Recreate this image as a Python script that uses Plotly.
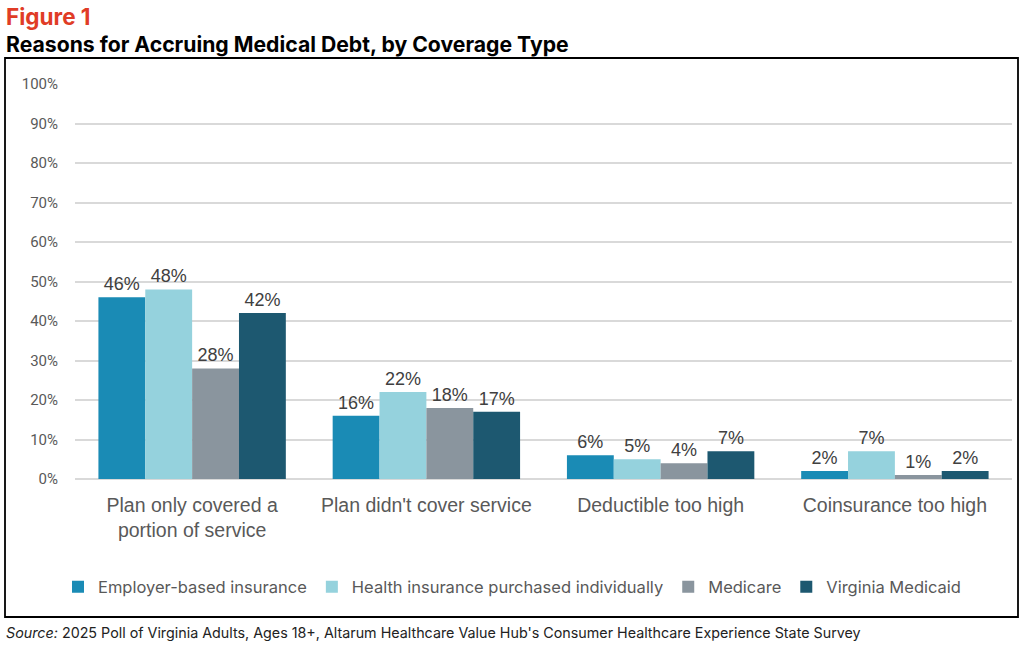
import plotly.graph_objects as go

categories = ["Plan only covered a<br>portion of service", "Plan didn't cover service",
              "Deductible too high", "Coinsurance too high"]
series_names = ["Employer-based insurance", "Health insurance purchased individually",
                "Medicare", "Virginia Medicaid"]
employer = [46, 16, 6, 2]
individual = [48, 22, 5, 7]
medicare = [28, 18, 4, 1]
medicaid = [42, 17, 7, 2]
y_ticks = [0, 10, 20, 30, 40, 50, 60, 70, 80, 90, 100]

colors = ["#1a8bb5", "#95d2dd", "#8a959e", "#1d5870"]
W, H = 1024, 652

fig = go.Figure()
for name, vals, col in zip(series_names, [employer, individual, medicare, medicaid], colors):
    fig.add_trace(go.Bar(
        x=categories, y=vals, name=name,
        marker=dict(color=col, line=dict(width=0)),
        text=[f"{v}%" for v in vals], textposition="outside",
        textfont=dict(family="Liberation Sans", size=18, color="#404040"),
        cliponaxis=False,
    ))

fig.update_layout(
    width=W, height=H,
    margin=dict(l=0, r=0, t=0, b=0, pad=0),
    paper_bgcolor="white", plot_bgcolor="white",
    barmode="group", bargap=0.2, bargroupgap=0,
    showlegend=True,
    legend=dict(orientation="h", x=0.5, xanchor="center", y=(H - 587) / H, yanchor="middle",
                font=dict(family="Inter", size=16.5, color="#595959"),
                itemwidth=30, traceorder="normal"),
    xaxis=dict(domain=[75 / W, 1012 / W], showgrid=False, showline=False, ticks="",
               automargin=False,
               tickfont=dict(family="Liberation Sans", size=19.5, color="#595959"),
               ticklabelstandoff=12),
    yaxis=dict(domain=[(H - 479) / H, (H - 84) / H], range=[0, 100], tickvals=y_ticks,
               ticktext=[f"{t}%" for t in y_ticks], showgrid=True, gridcolor="#d9d9d9",
               gridwidth=1.5, zeroline=True, zerolinecolor="#d9d9d9", zerolinewidth=1.5,
               showline=False, ticks="", automargin=False,
               tickfont=dict(family="Roboto", size=15, color="#595959"),
               ticklabelstandoff=16),
    shapes=[dict(type="rect", xref="paper", yref="paper",
                 x0=5 / W, x1=1018 / W, y0=(H - 617) / H, y1=(H - 58) / H,
                 line=dict(color="black", width=1.8), fillcolor="rgba(0,0,0,0)", layer="below")],
    annotations=[
        dict(text="<b>Figure 1</b>", xref="paper", yref="paper", x=4 / W, y=(H - 17) / H,
             xanchor="left", yanchor="middle", showarrow=False,
             font=dict(family="Inter", size=22.5, color="#e03c26")),
        dict(text="<b>Reasons for Accruing Medical Debt, by Coverage Type</b>", xref="paper",
             yref="paper", x=4 / W, y=(H - 44) / H, xanchor="left", yanchor="middle",
             showarrow=False, font=dict(family="Inter", size=21.2, color="black")),
        dict(text="<i>Source:</i> 2025 Poll of Virginia Adults, Ages 18+, Altarum Healthcare Value Hub's "
                  "Consumer Healthcare Experience State Survey",
             xref="paper", yref="paper", x=4 / W, y=(H - 633) / H, xanchor="left", yanchor="middle",
             showarrow=False, font=dict(family="Inter", size=14.3, color="#222222")),
    ],
)

fig.write_html("out.html", config={"displayModeBar": False},
               post_script="document.body.style.margin='0';document.body.style.overflow='hidden';")
